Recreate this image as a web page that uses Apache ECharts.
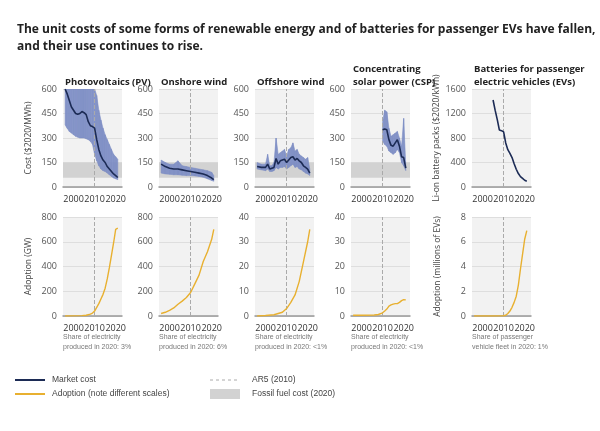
<!DOCTYPE html>
<html>
<head>
<meta charset="UTF-8">
<style>html,body{margin:0;background:#fff}#main{width:600px;height:431px}</style>
</head>
<body>
<div id="main"></div>
<script src="https://cdn.jsdelivr.net/npm/echarts@6/dist/echarts.min.js"></script>
<script>
// cost data [year, value]
var pvYears = [1996,1997,1998,1999,2000,2001,2002,2003,2004,2005,2006,2007,2008,2009,2010,2011,2012,2013,2014,2015,2016,2017,2018,2019,2020,2021];
var pvCost = [600,570,530,490,470,450,445,450,462,455,443,400,375,370,360,290,230,190,165,150,125,110,95,80,70,58];
var pvHigh = [600,600,600,600,600,600,600,600,600,600,600,600,600,600,600,560,470,410,360,320,290,260,230,200,185,170];
var pvLow = [380,360,340,330,320,310,305,300,300,300,295,290,280,260,200,160,130,110,100,95,85,75,65,55,50,45];

var onYears = [1996,1998,2000,2002,2004,2006,2008,2010,2012,2014,2016,2018,2020,2021];
var onCost = [140,125,115,110,110,105,100,95,90,85,80,70,55,45];
var onHigh = [165,150,140,140,160,130,125,120,115,110,105,100,90,70];
var onLow = [85,80,78,75,75,72,70,70,68,65,60,50,40,35];

var offYears = [1996,1998,2000,2001,2002,2003,2004,2005,2006,2007,2008,2009,2010,2011,2012,2013,2014,2015,2016,2017,2018,2019,2020,2021];
var offCost = [125,120,120,140,110,115,120,175,140,160,165,170,150,165,180,185,165,175,160,150,130,120,110,85];
var offHigh = [150,140,140,200,130,130,150,300,200,210,220,230,190,230,240,270,220,230,200,190,180,170,180,110];
var offLow = [110,105,100,110,95,95,100,120,110,120,120,125,110,120,130,140,120,125,110,105,95,85,80,70];

var cspYears = [2010,2011,2012,2013,2014,2015,2016,2017,2018,2019,2020,2021];
var cspCost = [350,355,350,290,255,250,270,290,250,185,180,115];
var cspHigh = [400,470,460,360,310,320,330,340,300,250,420,130];
var cspLow = [280,260,250,220,210,200,210,230,210,150,130,100];

var evYears = [2005,2006,2007,2008,2009,2010,2011,2012,2013,2014,2015,2016,2017,2018,2019,2020,2021];
var evCost = [1420,1250,1100,930,920,900,720,610,550,480,380,290,220,170,140,110,95];

// adoption data
var pvAdYears = [1996,2000,2004,2006,2008,2009,2010,2011,2012,2013,2014,2015,2016,2017,2018,2019,2020,2021];
var pvAd = [0,1,3,6,15,24,40,70,100,138,175,225,300,390,490,590,700,710];
var onAdYears = [1996,1998,2000,2002,2004,2006,2008,2010,2012,2014,2016,2018,2020,2021];
var onAd = [20,30,45,65,95,120,150,190,260,330,440,520,620,700];
var offAdYears = [1996,2000,2004,2006,2008,2010,2012,2014,2016,2018,2020,2021];
var offAd = [0,0.2,0.5,1,1.5,3,5.5,8.5,14,22,30,35];
var cspAdYears = [1996,2000,2006,2008,2010,2011,2012,2013,2014,2015,2016,2017,2018,2019,2020,2021];
var cspAd = [0.3,0.3,0.4,0.6,1.3,2,2.8,4,4.5,4.8,5,5,5.5,6.2,6.6,6.5];
var evAdYears = [1996,2005,2010,2011,2012,2013,2014,2015,2016,2017,2018,2019,2020,2021];
var evAd = [0,0,0.02,0.06,0.2,0.4,0.7,1.1,1.6,2.5,3.8,5,6.2,6.9];

var titles = ['Photovoltaics (PV)', 'Onshore wind', 'Offshore wind', 'Concentrating\nsolar power (CSP)', 'Batteries for passenger\nelectric vehicles (EVs)'];
var notes = ['Share of electricity\nproduced in 2020: 3%', 'Share of electricity\nproduced in 2020: 6%', 'Share of electricity\nproduced in 2020: <1%', 'Share of electricity\nproduced in 2020: <1%', 'Share of passenger\nvehicle fleet in 2020: 1%'];
var lefts = [63, 159, 255, 351, 472];

var costSets = [
    {y: pvYears, v: pvCost, hi: pvHigh, lo: pvLow, max: 600, iv: 150},
    {y: onYears, v: onCost, hi: onHigh, lo: onLow, max: 600, iv: 150},
    {y: offYears, v: offCost, hi: offHigh, lo: offLow, max: 600, iv: 150},
    {y: cspYears, v: cspCost, hi: cspHigh, lo: cspLow, max: 600, iv: 150},
    {y: evYears, v: evCost, max: 1600, iv: 400}
];
var adSets = [
    {y: pvAdYears, v: pvAd, max: 800, iv: 200},
    {y: onAdYears, v: onAd, max: 800, iv: 200},
    {y: offAdYears, v: offAd, max: 40, iv: 10},
    {y: cspAdYears, v: cspAd, max: 40, iv: 10},
    {y: evAdYears, v: evAd, max: 8, iv: 2}
];
var yNames = ['Cost ($2020/MWh)', '', '', '', 'Li-on battery packs ($2020/kWh)'];
var yNames2 = ['Adoption (GW)', '', '', '', 'Adoption (millions of EVs)'];

function pairs(xs, vs) {
    return xs.map(function (x, i) { return [x, vs[i]]; });
}

// range band drawn as one polygon per segment
function bandRender(set) {
    return function (params, api) {
        var k = params.dataIndex;
        if (k >= set.y.length - 1) return null;
        var pts = [
            api.coord([set.y[k], set.lo[k]]), api.coord([set.y[k + 1], set.lo[k + 1]]),
            api.coord([set.y[k + 1], set.hi[k + 1]]), api.coord([set.y[k], set.hi[k]])
        ];
        return {type: 'polygon', shape: {points: pts},
            style: {fill: '#7b8cc4', stroke: '#7b8cc4', lineWidth: 0.6, opacity: 0.9}};
    };
}

var grids = [], xAxes = [], yAxes = [], series = [], titleArr = [], graphics = [];
var navy = '#1c2b55', gold = '#e8b030';
var dash2010 = {silent: true, symbol: 'none', label: {show: false},
    lineStyle: {color: '#aaa', type: 'dashed', width: 1}, data: [{xAxis: 2010}]};

for (var i = 0; i < 5; i++) {
    [0, 1].forEach(function (row) {
        var gi = grids.length;
        var set = row === 0 ? costSets[i] : adSets[i];
        grids.push({left: lefts[i], width: 59, top: row === 0 ? 89 : 217, height: row === 0 ? 98 : 99,
            show: true, backgroundColor: '#f2f2f2', borderWidth: 0});
        xAxes.push({type: 'value', gridIndex: gi, min: 1995, max: 2023, interval: 5,
            axisLabel: {color: '#333', fontSize: 9, showMaxLabel: false, showMinLabel: false,
                formatter: function (v) { return v % 10 === 0 ? String(v) : ''; }},
            axisTick: {show: false}, splitLine: {show: false},
            axisLine: {lineStyle: {color: '#999', width: 1.5}}});
        yAxes.push({type: 'value', gridIndex: gi, min: 0, max: set.max, interval: set.iv,
            axisLabel: {color: '#555', fontSize: 9, margin: 6, formatter: function (v) { return String(v); }},
            axisTick: {show: false}, axisLine: {show: false},
            splitLine: {lineStyle: {color: '#dedede'}},
            name: row === 0 ? yNames[i] : yNames2[i], nameLocation: 'middle', nameGap: 30,
            nameTextStyle: {color: '#444', fontSize: 8.5}});
        if (set.hi) {
            series.push({type: 'custom', xAxisIndex: gi, yAxisIndex: gi, silent: true, z: 3,
                renderItem: bandRender(set), data: pairs(set.y, set.hi), clip: true});
        }
        var s = {type: 'line', xAxisIndex: gi, yAxisIndex: gi, symbol: 'none', z: 5,
            lineStyle: {color: row === 0 ? navy : gold, width: row === 0 ? 1.6 : 1.4},
            data: pairs(set.y, set.v), markLine: dash2010};
        if (row === 0 && i < 4) {
            s.markArea = {silent: true, itemStyle: {color: '#d2d2d2'}, data: [[{yAxis: 57}, {yAxis: 150}]]};
        }
        series.push(s);
    });
    titleArr.push({text: titles[i], left: lefts[i] - 3, top: i === 3 || i === 4 ? 58 : 71,
        textStyle: {fontSize: 9.5, fontWeight: 'bold', color: '#222', lineHeight: 13}});
    graphics.push({type: 'text', left: lefts[i], top: 332,
        style: {text: notes[i], fontSize: 7, fill: '#777', lineHeight: 10}});
}

titleArr.push({text: 'The unit costs of some forms of renewable energy and of batteries for passenger EVs have fallen,\nand their use continues to rise.',
    left: 12, top: 16, textStyle: {fontSize: 12, fontWeight: 'bold', color: '#222', lineHeight: 17}});

graphics.push(
    {type: 'line', shape: {x1: 15, y1: 380, x2: 45, y2: 380}, style: {stroke: navy, lineWidth: 2}},
    {type: 'text', left: 52, top: 375, style: {text: 'Market cost', fontSize: 8.5, fill: '#444'}},
    {type: 'line', shape: {x1: 15, y1: 394, x2: 45, y2: 394}, style: {stroke: gold, lineWidth: 2}},
    {type: 'text', left: 52, top: 389, style: {text: 'Adoption (note different scales)', fontSize: 8.5, fill: '#444'}},
    {type: 'line', shape: {x1: 210, y1: 380, x2: 240, y2: 380}, style: {stroke: '#aaa', lineWidth: 1, lineDash: [3, 3]}},
    {type: 'text', left: 252, top: 375, style: {text: 'AR5 (2010)', fontSize: 8.5, fill: '#444'}},
    {type: 'rect', shape: {x: 210, y: 389, width: 30, height: 10}, style: {fill: '#d2d2d2'}},
    {type: 'text', left: 252, top: 389, style: {text: 'Fossil fuel cost (2020)', fontSize: 8.5, fill: '#444'}}
);

var chart = echarts.init(document.getElementById('main'));
chart.setOption({
    animation: false,
    textStyle: {fontFamily: 'Open Sans'},
    title: titleArr,
    grid: grids,
    xAxis: xAxes,
    yAxis: yAxes,
    series: series,
    graphic: graphics
});
</script>
</body>
</html>
